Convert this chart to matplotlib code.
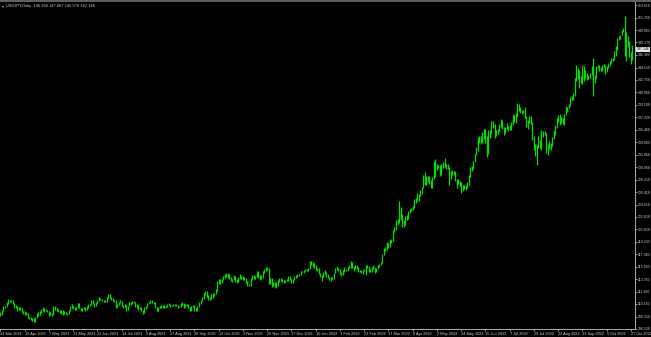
import pandas as pd
import numpy as np
import matplotlib.pyplot as plt
from matplotlib.patches import Rectangle

# USDJPY daily bars, 24 Mar 2021 .. 28 Oct 2022 (one value per weekday)
lows_2021 = [
    108.4, 108.6, 109.1, 109.55, 109.75, 110.2,  # Mar
    110.4, 110.45, 110.1, 109.6, 109.55, 109.2, 109.3, 109.3, 108.95, 108.75, 108.6, 108.6, 108.1, 107.95, 107.8, 107.75, 107.5, 107.6, 108.05, 108.45, 108.5, 108.8,  # Apr
    109.15, 109.05, 109.1, 108.95, 108.35, 108.5, 108.35, 108.6, 109.35, 109.2, 109.05, 108.8, 108.75, 108.6, 108.7, 108.7, 108.55, 108.7, 109.1, 109.6, 109.45,  # May
    109.35, 109.3, 109.5, 109.5, 109.2, 109.2, 109.4, 109.2, 109.3, 109.6, 109.9, 110.0, 110.1, 109.7, 109.85, 110.25, 110.55, 110.7, 110.6, 110.45, 110.4, 110.45,  # Jun
    111.0, 111.0, 110.8, 110.55, 110.4, 109.55, 109.7, 110.05, 110.25, 109.85, 109.6, 109.75, 109.1, 109.3, 109.8, 110.0, 110.1, 110.3, 109.7, 109.6, 109.35, 109.4,  # Jul
    109.2, 108.7, 108.9, 109.45, 109.7, 110.1, 110.25, 110.3, 110.2, 109.55, 109.1, 109.1, 109.5, 109.6, 109.55, 109.6, 109.55, 109.65, 109.95, 109.7, 109.8, 109.8,  # Aug
    109.85, 109.8, 109.6, 109.65, 109.75, 110.0, 109.6, 109.65, 109.8, 109.5, 109.1, 109.2, 109.65, 109.1, 109.1, 109.2, 109.7, 110.2, 110.6, 110.9, 111.4, 111.1,  # Sep
    110.8, 110.8, 110.9, 111.0, 111.35, 111.55, 112.1, 113.1, 113.05, 113.2, 113.65, 114.0, 114.1, 113.9, 113.8, 113.45, 113.4, 113.6, 113.3, 113.25, 113.35,  # Oct
    113.8, 113.75, 113.6, 113.6, 113.2, 112.7, 112.7, 112.8, 113.8, 113.8, 113.8, 114.05, 114.0, 113.6, 113.8, 113.95, 114.7, 114.95, 115.1, 113.05, 113.1, 112.6,  # Nov
    112.7, 112.6, 112.5, 112.75, 113.4, 113.45, 113.4, 113.2, 113.35, 113.45, 113.5, 113.65, 113.15, 113.15, 113.6, 113.95, 114.05, 114.25, 114.3, 114.75, 114.7, 114.9, 114.95,  # Dec
]
highs_2021 = [
    108.95, 109.25, 109.85, 109.85, 110.4, 110.95,
    110.8, 110.75, 110.7, 110.25, 110.0, 109.9, 109.75, 109.75, 109.6, 109.2, 109.1, 108.95, 108.85, 108.3, 108.25, 108.1, 108.1, 108.25, 108.8, 109.05, 109.1, 109.4,
    109.7, 109.5, 109.45, 109.3, 109.15, 109.0, 108.85, 109.8, 109.8, 109.6, 109.4, 109.3, 109.3, 109.3, 109.1, 109.0, 108.9, 109.25, 109.9, 110.2, 109.85,
    109.7, 109.7, 110.35, 110.35, 109.6, 109.6, 109.7, 109.75, 109.8, 110.15, 110.2, 110.8, 110.7, 110.35, 110.45, 110.75, 111.1, 111.05, 110.9, 110.8, 110.7, 111.15,
    111.65, 111.65, 111.15, 111.05, 110.75, 110.7, 110.2, 110.45, 110.7, 110.6, 110.0, 110.1, 110.0, 109.9, 110.4, 110.4, 110.6, 110.6, 110.5, 110.15, 110.0, 109.75,
    109.75, 109.35, 109.7, 109.8, 110.35, 110.5, 110.7, 110.8, 110.5, 110.45, 109.7, 109.7, 109.85, 109.95, 109.95, 110.0, 109.85, 110.1, 110.25, 110.2, 110.05, 110.15,
    110.2, 110.1, 110.0, 109.9, 110.3, 110.4, 110.3, 110.1, 110.15, 110.1, 109.75, 109.85, 110.05, 109.95, 109.55, 109.85, 110.45, 110.8, 111.1, 111.7, 112.05, 112.1,
    111.4, 111.2, 111.55, 111.8, 111.75, 112.3, 113.45, 113.8, 113.75, 113.85, 114.25, 114.45, 114.7, 114.7, 114.55, 114.1, 113.85, 114.3, 114.2, 113.85, 114.05,
    114.45, 114.2, 114.25, 114.15, 113.9, 113.5, 113.1, 114.0, 114.3, 114.3, 114.25, 114.95, 114.95, 114.4, 114.4, 114.95, 115.2, 115.5, 115.5, 115.4, 113.95, 113.9,
    113.3, 113.3, 113.4, 113.6, 113.9, 113.95, 113.8, 113.7, 113.7, 113.8, 114.25, 114.2, 113.8, 113.75, 114.2, 114.3, 114.5, 114.45, 114.9, 114.95, 115.05, 115.2, 115.2,
]
lows_2022 = [
    114.95, 115.25, 115.8, 115.6, 115.4, 115.05, 114.95, 114.45, 114.05, 113.5, 114.1, 114.45, 114.05, 114.0, 113.65, 113.5, 113.75, 113.75, 114.6, 115.1, 114.95,  # Jan
    114.55, 114.2, 114.4, 114.8, 114.95, 114.9, 115.35, 115.45, 115.4, 114.95, 115.3, 115.3, 114.85, 114.8, 114.6, 114.5, 114.9, 114.4, 115.35, 114.8,  # Feb
    114.75, 114.75, 115.3, 114.65, 114.75, 115.2, 115.55, 115.75, 116.05, 117.3, 117.85, 118.05, 118.25, 118.45, 119.0, 119.35, 120.6, 120.9, 121.6, 121.9, 122.4, 121.3, 121.3,  # Mar
    121.6, 122.4, 122.55, 123.4, 123.6, 123.85, 124.15, 124.85, 125.1, 125.1, 125.8, 126.2, 126.95, 127.5, 127.5, 127.95, 127.6, 126.95, 127.0, 128.3, 128.6,  # Apr
    129.7, 129.85, 128.75, 128.85, 129.95, 130.05, 129.8, 129.75, 127.5, 128.3, 128.9, 128.95, 128.1, 127.05, 127.55, 127.3, 126.35, 126.65, 126.9, 126.75, 127.05, 127.45,  # May
    128.65, 129.55, 129.75, 130.75, 131.8, 132.45, 133.6, 133.4, 133.6, 134.2, 133.55, 131.5, 131.9, 134.3, 134.85, 135.7, 134.25, 134.55, 134.85, 135.3, 135.95, 135.55,  # Jun
    134.75, 134.95, 135.55, 135.3, 135.5, 135.5, 136.1, 136.65, 136.4, 137.35, 138.2, 137.9, 137.75, 137.85, 137.2, 135.95, 135.6, 136.4, 136.3, 134.05, 132.5,  # Jul
    131.6, 130.4, 132.9, 132.8, 132.55, 134.4, 134.7, 132.05, 131.75, 132.75, 132.55, 133.1, 134.1, 134.7, 135.75, 136.65, 136.2, 136.5, 136.35, 136.1, 137.65, 138.1, 138.6,  # Aug
    138.95, 139.75, 139.8, 140.45, 142.6, 142.9, 141.5, 142.3, 142.15, 142.55, 143.0, 142.65, 142.8, 143.0, 143.4, 140.35, 142.3, 142.95, 144.45, 143.95, 143.95, 144.0,  # Sep
    144.55, 143.55, 143.9, 144.5, 144.75, 145.2, 145.45, 145.65, 146.2, 147.1, 148.55, 148.6, 149.2, 149.7, 146.25, 145.5, 147.55, 146.05, 145.1, 145.55,  # Oct
]
highs_2022 = [
    115.45, 116.35, 116.35, 116.2, 116.05, 115.85, 115.45, 115.4, 114.7, 114.3, 114.75, 115.05, 114.85, 114.55, 114.15, 114.05, 114.05, 114.7, 115.45, 115.7, 115.4,
    115.2, 114.8, 115.05, 115.5, 115.3, 115.6, 115.8, 116.35, 116.2, 115.7, 115.8, 115.75, 115.55, 115.15, 115.15, 115.1, 115.25, 115.75, 115.8, 115.65,
    115.2, 115.6, 115.8, 115.5, 115.45, 115.8, 116.0, 116.25, 117.4, 118.25, 118.45, 119.15, 119.0, 119.4, 119.6, 120.95, 121.4, 122.4, 122.45, 125.1, 124.3, 123.2, 122.4,
    123.0, 123.05, 123.7, 124.0, 124.05, 124.4, 125.45, 125.6, 126.3, 126.1, 126.7, 127.1, 128.95, 129.4, 128.7, 128.8, 128.8, 128.2, 128.6, 130.95, 131.25,
    130.45, 130.4, 130.35, 130.45, 130.8, 131.35, 130.55, 130.55, 130.05, 129.45, 129.7, 129.55, 129.5, 128.3, 128.3, 128.1, 127.95, 127.5, 127.5, 127.4, 127.95, 128.85,
    130.0, 130.2, 130.95, 131.95, 133.0, 134.45, 134.55, 134.6, 135.2, 135.6, 135.6, 134.6, 135.45, 135.4, 136.7, 136.7, 136.35, 135.4, 135.55, 136.35, 137.0, 136.95,
    135.95, 135.85, 136.4, 136.0, 136.1, 136.55, 137.75, 137.65, 137.85, 139.35, 139.2, 138.85, 138.4, 138.4, 138.85, 137.5, 136.95, 137.45, 137.45, 136.6, 134.55,
    133.35, 133.2, 134.55, 134.0, 135.5, 135.25, 135.25, 135.05, 133.4, 133.85, 133.6, 134.4, 135.3, 136.1, 137.2, 137.6, 137.7, 137.3, 137.2, 137.75, 139.0, 138.85, 139.2,
    140.25, 140.4, 140.8, 143.0, 144.95, 144.5, 144.2, 143.25, 144.95, 144.7, 144.15, 143.75, 143.45, 143.8, 144.7, 145.9, 143.5, 144.8, 144.85, 144.9, 144.6, 144.95,
    145.1, 144.95, 144.7, 145.25, 145.45, 145.9, 145.9, 146.9, 147.65, 148.85, 149.1, 149.3, 149.95, 150.3, 151.95, 149.7, 149.05, 148.45, 146.75, 147.85,
]

price_labels = [153.610, 151.760, 149.960, 148.170, 146.360, 144.510, 142.750, 140.950,
                139.100, 137.320, 135.460, 133.660, 131.860, 130.060, 128.210, 126.410,
                124.610, 122.810, 121.010, 119.200, 117.360, 115.560, 113.760, 111.960,
                110.160, 108.310, 106.520]
current_price = 147.146
header = "USDJPY,Daily  146.260 147.867 145.576 147.146"

lows = np.array(lows_2021 + lows_2022)
highs = np.array(highs_2021 + highs_2022)
dates = pd.bdate_range("2021-03-24", "2022-10-28")
assert len(lows) == len(highs) == len(dates)
x = np.arange(len(dates))

W, H = 651, 337
fig = plt.figure(figsize=(W / 100, H / 100), dpi=100, facecolor="black")
ax = fig.add_axes([0, 8 / H, 635 / W, 327 / H], facecolor="black")

ax.vlines(x, lows, highs, color="#00e000", linewidth=0.9)

ax.set_xlim(-0.3, 418.7)
ax.set_ylim(106.52, 154.05)

axis_col = "#c8c8c8"
for s in ["top", "left"]:
    ax.spines[s].set_visible(False)
for s in ["right", "bottom"]:
    ax.spines[s].set_color(axis_col)
    ax.spines[s].set_linewidth(0.6)

font = ["Liberation Sans", "DejaVu Sans"]
tick_idx = x[::16]
tick_text = [f"{d.day} {d.strftime('%b %Y')}" for d in dates[::16]]
ax.set_xticks(tick_idx)
ax.set_xticklabels(tick_text, ha="left", fontsize=2.8, color="#d0d0d0", family=font)
ax.yaxis.tick_right()
ax.set_yticks(price_labels)
ax.set_yticklabels([f"{p:.3f}" for p in price_labels], fontsize=2.5, color="#d0d0d0", family=font)
ax.tick_params(axis="both", colors=axis_col, length=1.5, width=0.5, pad=0.6)
ax.tick_params(axis="x", labelcolor="#d0d0d0")
ax.tick_params(axis="y", labelcolor="#d0d0d0")

# current price marker on the price scale
ax.text(1.003, current_price, f"{current_price:.3f}", transform=ax.get_yaxis_transform(),
        fontsize=2.5, family=font, color="black", va="center", ha="left",
        bbox=dict(boxstyle="square,pad=0.15", facecolor="#e8e8e8", edgecolor="none"),
        clip_on=False)

# window border and header
fig.patches.append(Rectangle((0, 1 - 1.5 / H), 1, 1.5 / H, transform=fig.transFigure,
                             facecolor="#606060", edgecolor="none"))
fig.text(2 / W, 1 - 6 / H, "▾", fontsize=3, color="#b0b0b0", va="center", family=font)
fig.text(6 / W, 1 - 6 / H, header, fontsize=2.9, color="#c8c8c8", va="center", family=font)

fig.savefig("out.png", dpi=100, facecolor="black")
